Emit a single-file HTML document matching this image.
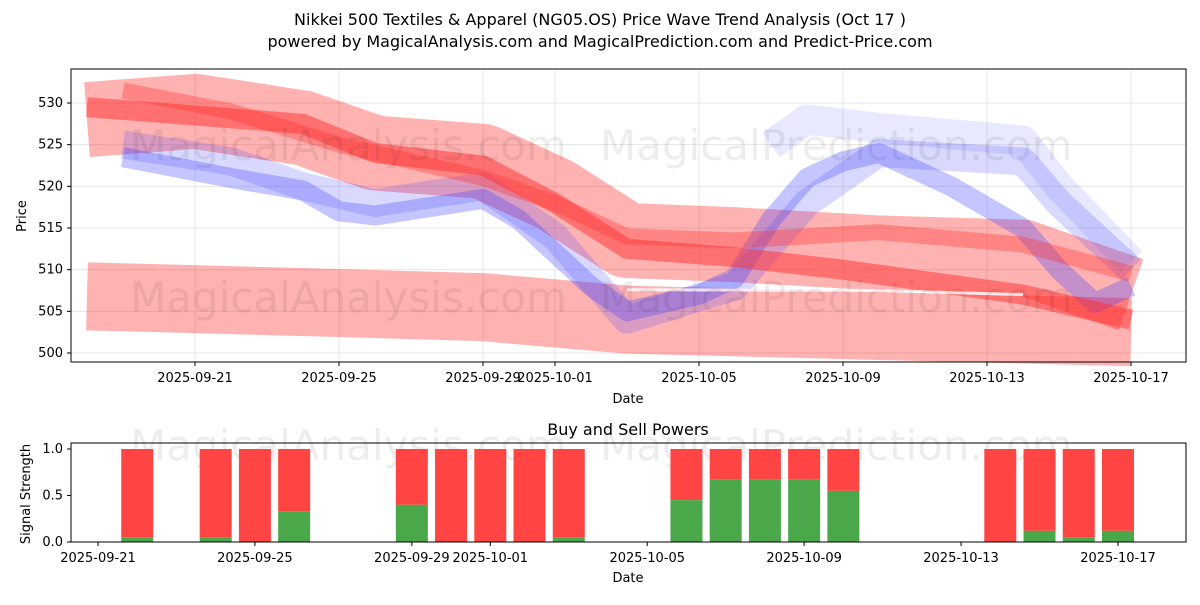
<!DOCTYPE html>
<html><head><meta charset="utf-8"><style>
body{margin:0;background:#fff;font-family:"Liberation Sans","DejaVu Sans",sans-serif}
svg text{font-family:"DejaVu Sans","Liberation Sans",sans-serif}
</style></head><body>
<svg id="c" width="1200" height="600" xmlns="http://www.w3.org/2000/svg">
<text x="600" y="25" font-size="16" text-anchor="middle">Nikkei 500 Textiles &amp; Apparel (NG05.OS) Price Wave Trend Analysis (Oct 17 )</text>
<text x="600" y="47" font-size="16" text-anchor="middle">powered by MagicalAnalysis.com and MagicalPrediction.com and Predict-Price.com</text>
<g id="topg"></g><g id="botg"></g>
</svg>
<script>
// ---- data ----
const tickDays=[3,7,11,13,17,21,25,29];
const tickLabels=["2025-09-21","2025-09-25","2025-09-29","2025-10-01","2025-10-05","2025-10-09","2025-10-13","2025-10-17"];
const priceTicks=[500,505,510,515,520,525,530];
const lowBandDays=[0,7,11,15,29];
const lowBandVals=[506.8,506,505.5,504,502.5];
const redBandDays=[0,3,6,8,11,13,15,18,22,26,29];
const redBandVals=[528,529,527,524,523,519,513.5,513,512,511.5,507];
const redLineDays=[0,6,8,11,13,15,18,21,26,29];
const redLineVals=[529.5,527.5,524,522.5,518,512.5,511.5,510,507,504];
const red2Days=[1,4,7,11,13,15,18,22,26,29];
const red2Vals=[531.5,529,525,521,518,514,513.5,514.5,513,509.5];
const blueDays=[1,4,6,7,8,11,12,13,14,15,17,18,19,20,21,22,24,26,27,28,29];
const blueVals=[523.5,521,519.5,517,516.5,518.5,516,512,508,505,507,509,516,521,523,524,520,515,510,506,508];
const blue2Days=[1,4,6,8,11,13,15,18,20,22,26,27,29];
const blue2Vals=[525,523,520,518,520,514,504,508,518,524,523,518,510];
const blue3Days=[19,20,22,26,27,29];
const blue3Vals=[525,528,527,525.5,520,511];
const barDays=[4,6,7,8,11,12,13,14,15,18,19,20,21,22,26,27,28,29];
const buyVals=[0.05,0.05,0,0.33,0.4,0,0,0,0.05,0.45,0.67,0.67,0.67,0.55,0,0.12,0.05,0.12];
const botTicks=[0,0.5,1.0];
const botTickLabels=["0.0","0.5","1.0"];
// ---- scales ----
const NS="http://www.w3.org/2000/svg";
const X=d=>87+d*36, Y=v=>353-(v-500)*250/30;
const XB=d=>98+(d-3)*39.23, YB=v=>542-v*93;
function mk(p,t,a){const e=document.createElementNS(NS,t);for(const k in a)e.setAttribute(k,a[k]);p.appendChild(e);return e;}
const gTop=document.getElementById('topg'),gBot=document.getElementById('botg');
tickDays.forEach((d,i)=>{mk(gTop,'line',{x1:X(d),x2:X(d),y1:69,y2:362,stroke:'#e6e6e6'});
 mk(gTop,'line',{x1:X(d),x2:X(d),y1:362,y2:366,stroke:'#000'});
 const t=mk(gTop,'text',{x:X(d),y:382,'font-size':13,'text-anchor':'middle'});t.textContent=tickLabels[i];
 
 });
priceTicks.forEach(v=>{mk(gTop,'line',{x1:71,x2:1186,y1:Y(v),y2:Y(v),stroke:'#e6e6e6'});
 mk(gTop,'line',{x1:67,x2:71,y1:Y(v),y2:Y(v),stroke:'#000'});
 const t=mk(gTop,'text',{x:63,y:Y(v)+4,'font-size':13,'text-anchor':'end'});t.textContent=v;
 
 });
function line(days,vals,col,w,op,name){const p=mk(gTop,'polyline',{points:days.map((d,i)=>X(d)+','+Y(vals[i])).join(' '),fill:'none',stroke:col,'stroke-width':w,'stroke-opacity':op,'stroke-linejoin':'round'});
 
 }
line(lowBandDays,lowBandVals,'#ff0000',68,0.3,'low-red-band');
line(redBandDays,redBandVals,'#ff0000',75,0.3,'upper-red-band');
line(blue3Days,blue3Vals,'#4040ff',30,0.12,'blue-upper-band');
line(blue2Days,blue2Vals,'#4040ff',28,0.2,'blue-wave-2');
line(blueDays,blueVals,'#4040ff',20,0.3,'blue-wave');
line(red2Days,red2Vals,'#ff3030',16,0.35,'red-wave-2');
line(redLineDays,redLineVals,'#ff3030',20,0.5,'red-wave');
mk(gTop,'polyline',{points:[[15,507.6],[22,507.5],[26,507]].map(a=>X(a[0])+','+Y(a[1])).join(' '),fill:'none',stroke:'#fff','stroke-width':3,'stroke-opacity':0.8});
mk(gTop,'rect',{x:71,y:69,width:1115,height:293,fill:'none',stroke:'#000'});
[[130,160,'MagicalAnalysis.com'],[600,160,'MagicalPrediction.com'],[130,312,'MagicalAnalysis.com'],[600,312,'MagicalPrediction.com'],[130,460,'MagicalAnalysis.com'],[600,460,'MagicalPrediction.com']].forEach(w=>{const t=mk(gTop,'text',{x:w[0],y:w[1],'font-size':42,fill:'#000','fill-opacity':0.07});t.textContent=w[2];});
let t=mk(gTop,'text',{x:628,y:403,'font-size':13,'text-anchor':'middle'});t.textContent='Date';
t=mk(gTop,'text',{x:26,y:216,'font-size':13,'text-anchor':'middle',transform:'rotate(-90 26 216)'});t.textContent='Price';
barDays.forEach((d,i)=>{const x=XB(d)-16;
 const r=mk(gBot,'rect',{x:x,y:YB(1),width:32,height:YB(buyVals[i])-YB(1),fill:'#ff4444'});
 
 
 const g=mk(gBot,'rect',{x:x,y:YB(buyVals[i]),width:32,height:YB(0)-YB(buyVals[i]),fill:'#4aa84a'});
 
 });
tickDays.forEach((d,i)=>{mk(gBot,'line',{x1:XB(d),x2:XB(d),y1:542,y2:546,stroke:'#000'});
 const t=mk(gBot,'text',{x:XB(d),y:562,'font-size':13,'text-anchor':'middle'});t.textContent=tickLabels[i];});
botTicks.forEach((v,i)=>{mk(gBot,'line',{x1:67,x2:71,y1:YB(v),y2:YB(v),stroke:'#000'});
 const t=mk(gBot,'text',{x:63,y:YB(v)+4,'font-size':13,'text-anchor':'end'});t.textContent=botTickLabels[i];});
mk(gBot,'rect',{x:71,y:443,width:1115,height:99,fill:'none',stroke:'#000'});
t=mk(gBot,'text',{x:628,y:435,'font-size':16,'text-anchor':'middle'});t.textContent='Buy and Sell Powers';
t=mk(gBot,'text',{x:628,y:582,'font-size':13,'text-anchor':'middle'});t.textContent='Date';
t=mk(gBot,'text',{x:30,y:494,'font-size':13,'text-anchor':'middle',transform:'rotate(-90 30 494)'});t.textContent='Signal Strength';
</script>
</body></html>
